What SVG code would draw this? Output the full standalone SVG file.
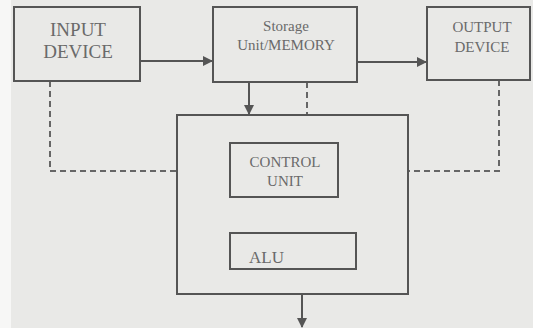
<svg xmlns="http://www.w3.org/2000/svg" width="533" height="328" viewBox="0 0 533 328">
<style>
.box{fill:#e9e9e7;stroke:#555;stroke-width:2}
.ln{fill:none;stroke:#555;stroke-width:2}
.dash{fill:none;stroke:#666;stroke-width:2;stroke-dasharray:6,4}
text{font-family:"Liberation Serif","DejaVu Serif",serif;fill:#6a6a6a;text-anchor:middle}
</style>
<defs>
<marker id="ah" markerWidth="10" markerHeight="10" refX="9" refY="5" orient="auto" markerUnits="userSpaceOnUse">
<path d="M0,0 L10,5 L0,10 Z" fill="#555"/>
</marker>
</defs>
<rect width="533" height="328" fill="#e9e9e7"/>
<rect width="11" height="328" fill="#f7f7f6"/>
<g id="connectors">
<line class="ln" x1="140" y1="61" x2="212" y2="61" marker-end="url(#ah)"/>
<line class="ln" x1="357" y1="62" x2="426" y2="62" marker-end="url(#ah)"/>
<line class="ln" x1="249" y1="82" x2="249" y2="114" marker-end="url(#ah)"/>
<line class="dash" x1="307" y1="82" x2="307" y2="115"/>
<polyline class="dash" points="50,81 50,171 177,171"/>
<polyline class="dash" points="499,80 499,171 408,171"/>
<line class="dash" x1="284" y1="197" x2="284" y2="233"/>
<line class="ln" x1="302" y1="294" x2="302" y2="327" marker-end="url(#ah)"/>
</g>
<g id="input">
<rect class="box" x="14" y="7" width="126" height="74"/>
<text x="78" y="36" font-size="19">INPUT</text>
<text x="78" y="58" font-size="19">DEVICE</text>
</g>
<g id="storage">
<rect class="box" x="213" y="7" width="144" height="75"/>
<text x="286" y="31" font-size="15">Storage</text>
<text x="286" y="50" font-size="15">Unit/MEMORY</text>
</g>
<g id="output">
<rect class="box" x="427" y="7" width="103" height="73"/>
<text x="482" y="32" font-size="15">OUTPUT</text>
<text x="482" y="52" font-size="15">DEVICE</text>
</g>
<g id="cpu">
<rect class="box" x="177" y="115" width="231" height="179"/>
</g>
<g id="control">
<rect class="box" x="230" y="143" width="108" height="54"/>
<text x="285" y="167" font-size="15">CONTROL</text>
<text x="285" y="186" font-size="15">UNIT</text>
</g>
<g id="alu">
<rect class="box" x="230" y="233" width="126" height="36"/>
<text x="249" y="263" font-size="17" style="text-anchor:start">ALU</text>
</g>
</svg>
